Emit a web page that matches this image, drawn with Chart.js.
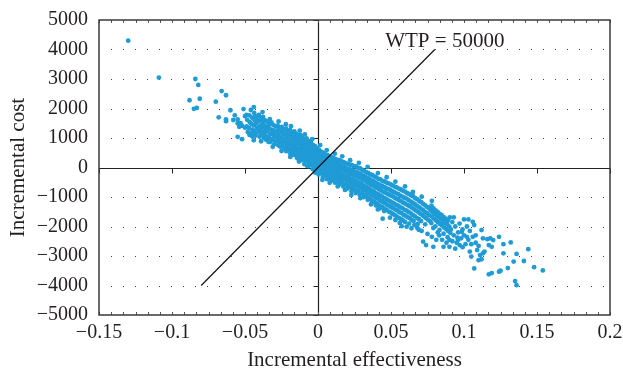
<!DOCTYPE html>
<html>
<head>
<meta charset="utf-8">
<script src="https://cdn.jsdelivr.net/npm/chart.js@4.4.1/dist/chart.umd.min.js"></script>
<style>
  body { margin: 0; background: #fff; }
  canvas { display: block; }
</style>
</head>
<body>
<canvas id="icer" width="623" height="370"></canvas>
<script>
// tick labels
const xTickLabels = ['\u22120.15', '\u22120.1', '\u22120.05', '0', '0.05', '0.1', '0.15', '0.2'];
const yTickLabels = ['\u22125000', '\u22124000', '\u22123000', '\u22122000', '\u22121000', '0', '1000', '2000', '3000', '4000', '5000'];

// willingness-to-pay threshold line
const wtpLabel = 'WTP = 50000';
const wtpLine = [[-0.08, -4000], [0.08, 4000]];

// bootstrap replicates [incremental effectiveness, incremental cost]
const outlierPts = [
  [-0.130, 4300], [-0.109, 3050], [-0.084, 3000], [-0.082, 2800], [-0.088, 2280], [-0.081, 2330],
  [-0.085, 1990], [-0.083, 2020], [-0.066, 2590], [-0.063, 2450], [-0.070, 2230], [-0.060, 1940],
  [-0.057, 1770], [-0.068, 1700], [-0.063, 1630], [-0.063, 1570], [-0.058, 1610], [-0.055, 1630],
  [-0.055, 1500], [-0.054, 1380], [-0.051, 1980], [-0.046, 1950], [-0.044, 2050], [-0.049, 1780],
  [-0.050, 1740], [-0.043, 1740], [-0.039, 1670], [-0.053, 1500], [-0.052, 1410], [-0.055, 1040],
  [-0.052, 960], [-0.050, 1350], [-0.047, 1160], [-0.045, 1050], [-0.036, 1050], [-0.034, 870],
  [-0.0142, 312], [-0.0055, 820]
];

// scattered replicates just outside the dense core
const edgePts = [
  [-0.038, 1880], [-0.033, 1640], [-0.027, 1560], [-0.022, 1470], [-0.0185, 1400], [-0.0125, 1250],
  [-0.009, 1120], [-0.004, 960], [0.0015, 760], [0.006, 590], [0.0115, 470], [0.0166, 380],
  [0.022, 250], [0.028, 160], [0.034, 20], [0.041, -190], [0.047, -330], [0.053, -480],
  [0.0596, -640], [0.065, -830], [0.071, -990], [0.078, -1130],
  [-0.044, 920], [-0.039, 890], [-0.031, 700], [-0.025, 560], [-0.019, 360], [-0.013, 200],
  [-0.0075, 60], [-0.002, -170], [0.003, -420], [0.008, -520], [0.0135, -640], [0.0185, -760],
  [0.0228, -932], [0.029, -1040], [0.0363, -1250], [0.041, -1420], [0.0443, -1736], [0.0493, -1700],
  [0.053, -1780], [0.056, -1880], [0.0607, -2007], [0.0573, -1990], [0.064, -2060], [0.069, -2110],
  [0.068, -2050], [0.071, -2150], [0.075, -2250], [0.078, -2350], [0.081, -2450], [0.083, -2300],
  [0.066, -1950], [0.085, -2450], [0.088, -2550], [0.092, -2500], [0.094, -2750], [0.096, -2450],
  [0.099, -2700], [0.102, -2350], [0.105, -2600], [0.108, -2300]
];

const upperBandPts = [
  [-0.0485, 1615], [-0.0488, 1395], [-0.0481, 1205],
  [-0.0470, 1770], [-0.0467, 1535], [-0.0473, 1340], [-0.0469, 1105],
  [-0.0452, 1690], [-0.0456, 1475], [-0.0449, 1280], [-0.0454, 1160],
  [-0.0437, 1850], [-0.0434, 1600], [-0.0440, 1425], [-0.0435, 1235], [-0.0431, 1080],
  [-0.0421, 1690], [-0.0424, 1495], [-0.0418, 1340], [-0.0422, 1150],
  [-0.0405, 1780], [-0.0408, 1570], [-0.0402, 1395], [-0.0406, 1240], [-0.0401, 1045],
  [-0.0391, 1650], [-0.0388, 1455], [-0.0394, 1300], [-0.0389, 1140],
  [-0.0376, 1715], [-0.0379, 1540], [-0.0373, 1360], [-0.0377, 1200], [-0.0372, 1015],
  [-0.0362, 1600], [-0.0365, 1430], [-0.0359, 1270], [-0.0363, 1095], [-0.0358, 945],
  [-0.0348, 1560], [-0.0345, 1370], [-0.0351, 1225], [-0.0346, 1040],
  [-0.0333, 1470], [-0.0336, 1335], [-0.0330, 1150], [-0.0334, 995], [-0.0329, 865],
  [-0.0319, 1525], [-0.0322, 1285], [-0.0316, 1130], [-0.0320, 950],
  [-0.0305, 1435], [-0.0308, 1265], [-0.0302, 1070], [-0.0306, 935], [-0.0301, 785],
  [-0.0290, 1395], [-0.0293, 1205], [-0.0287, 1055], [-0.0291, 875],
  [-0.0276, 1415], [-0.0279, 1255], [-0.0273, 1085], [-0.0277, 945], [-0.0272, 755],
  [-0.0262, 1325], [-0.0265, 1175], [-0.0259, 1005], [-0.0263, 855], [-0.0258, 705],
  [-0.0248, 1375], [-0.0251, 1195], [-0.0245, 1045], [-0.0249, 885], [-0.0244, 725],
  [-0.0233, 1285], [-0.0236, 1135], [-0.0230, 965], [-0.0234, 815], [-0.0229, 645],
  [-0.0219, 1325], [-0.0222, 1155], [-0.0216, 1005], [-0.0220, 845], [-0.0215, 695], [-0.0218, 555],
  [-0.0205, 1235], [-0.0208, 1085], [-0.0202, 925], [-0.0206, 775], [-0.0201, 605],
  [-0.0191, 1275], [-0.0194, 1105], [-0.0188, 955], [-0.0192, 795], [-0.0187, 645], [-0.0190, 475],
  [-0.0176, 1185], [-0.0179, 1035], [-0.0173, 875], [-0.0177, 725], [-0.0172, 565], [-0.0175, 425],
  [-0.0162, 1225], [-0.0165, 1055], [-0.0159, 905], [-0.0163, 745], [-0.0158, 605], [-0.0161, 445]
];

const midBandPts = [
  [-0.0148, 1135], [-0.0151, 995], [-0.0145, 825], [-0.0149, 685], [-0.0144, 515], [-0.0147, 385],
  [-0.0134, 1085], [-0.0137, 925], [-0.0131, 795], [-0.0135, 625], [-0.0130, 485], [-0.0133, 325],
  [-0.0120, 1105], [-0.0123, 965], [-0.0117, 795], [-0.0121, 655], [-0.0116, 495], [-0.0119, 355], [-0.0122, 235],
  [-0.0106, 1015], [-0.0109, 865], [-0.0103, 725], [-0.0107, 575], [-0.0102, 425], [-0.0105, 275],
  [-0.0092, 945], [-0.0095, 805], [-0.0089, 655], [-0.0093, 515], [-0.0088, 365], [-0.0091, 225], [-0.0094, 115],
  [-0.0078, 985], [-0.0081, 825], [-0.0075, 695], [-0.0079, 535], [-0.0074, 395], [-0.0077, 245],
  [-0.0063, 895], [-0.0066, 755], [-0.0060, 605], [-0.0064, 465], [-0.0059, 315], [-0.0062, 175], [-0.0065, 45],
  [-0.0049, 845], [-0.0052, 695], [-0.0046, 565], [-0.0050, 405], [-0.0045, 275], [-0.0048, 115],
  [-0.0035, 765], [-0.0038, 635], [-0.0032, 485], [-0.0036, 355], [-0.0031, 195], [-0.0034, 65], [-0.0037, -55],
  [-0.0021, 725], [-0.0024, 575], [-0.0018, 435], [-0.0022, 285], [-0.0017, 155], [-0.0020, 5],
  [-0.0007, 655], [-0.0010, 515], [-0.0004, 365], [-0.0008, 235], [-0.0003, 85], [-0.0006, -55], [-0.0009, -185],
  [0.0007, 595], [0.0004, 445], [0.0010, 315], [0.0006, 165], [0.0011, 35], [0.0008, -115], [0.0005, -235],
  [0.0021, 535], [0.0018, 405], [0.0024, 255], [0.0020, 125], [0.0025, -25], [0.0022, -155],
  [0.0035, 505], [0.0032, 355], [0.0038, 225], [0.0034, 75], [0.0039, -65], [0.0036, -215], [0.0033, -325],
  [0.0049, 445], [0.0046, 315], [0.0052, 165], [0.0048, 35], [0.0053, -115], [0.0050, -245],
  [0.0063, 425], [0.0060, 275], [0.0066, 145], [0.0062, -5], [0.0067, -135], [0.0064, -285], [0.0061, -395],
  [0.0077, 375], [0.0074, 245], [0.0080, 95], [0.0076, -35], [0.0081, -185], [0.0078, -315],
  [0.0091, 355], [0.0088, 205], [0.0094, 75], [0.0090, -75], [0.0095, -205], [0.0092, -355], [0.0089, -455],
  [0.0105, 315], [0.0102, 185], [0.0108, 35], [0.0104, -95], [0.0109, -245], [0.0106, -375],
  [0.0119, 295], [0.0116, 145], [0.0122, 15], [0.0118, -135], [0.0123, -265], [0.0120, -415], [0.0117, -515],
  [0.0133, 255], [0.0130, 125], [0.0136, -25], [0.0132, -155], [0.0137, -305], [0.0134, -435],
  [0.0147, 245], [0.0144, 85], [0.0150, -45], [0.0146, -195], [0.0151, -325], [0.0148, -475], [0.0145, -575],
  [0.0161, 205], [0.0158, 65], [0.0164, -85], [0.0160, -215], [0.0165, -375], [0.0162, -505],
  [0.0175, 185], [0.0172, 25], [0.0178, -105], [0.0174, -265], [0.0179, -395], [0.0176, -555], [0.0173, -645],
  [0.0189, 145], [0.0186, 5], [0.0192, -145], [0.0188, -285], [0.0193, -435], [0.0190, -575],
  [0.0203, 125], [0.0200, -35], [0.0206, -175], [0.0202, -325], [0.0207, -465], [0.0204, -625], [0.0201, -715],
  [0.0217, 95], [0.0214, -55], [0.0220, -215], [0.0216, -355], [0.0221, -515], [0.0218, -655],
  [0.0231, 85], [0.0228, -85], [0.0234, -235], [0.0230, -395], [0.0235, -535], [0.0232, -695], [0.0229, -805],
  [0.0245, 45], [0.0242, -105], [0.0248, -275], [0.0244, -415], [0.0249, -585], [0.0246, -725],
  [0.0259, 35], [0.0256, -145], [0.0262, -295], [0.0258, -465], [0.0263, -605], [0.0260, -775], [0.0257, -865],
  [0.0273, -5], [0.0270, -165], [0.0276, -335], [0.0272, -485], [0.0277, -655], [0.0274, -805],
  [0.0287, -25], [0.0284, -205], [0.0290, -355], [0.0286, -525], [0.0291, -685], [0.0288, -855], [0.0285, -925],
  [0.0301, -75], [0.0298, -235], [0.0304, -405], [0.0300, -555], [0.0305, -725], [0.0302, -875]
];

const lowerBandPts = [
  [0.0315, -105], [0.0312, -285], [0.0318, -435], [0.0314, -615], [0.0319, -765], [0.0316, -935], [0.0313, -1005],
  [0.0329, -155], [0.0326, -315], [0.0332, -485], [0.0328, -645], [0.0333, -815], [0.0330, -965],
  [0.0343, -185], [0.0340, -365], [0.0346, -525], [0.0342, -695], [0.0347, -855], [0.0344, -1025], [0.0341, -1095],
  [0.0357, -235], [0.0354, -395], [0.0360, -575], [0.0356, -735], [0.0361, -905], [0.0358, -1065],
  [0.0371, -255], [0.0368, -445], [0.0374, -605], [0.0370, -785], [0.0375, -945], [0.0372, -1125], [0.0369, -1195],
  [0.0385, -305], [0.0382, -475], [0.0388, -655], [0.0384, -815], [0.0389, -995], [0.0386, -1155],
  [0.0399, -335], [0.0396, -525], [0.0402, -685], [0.0398, -875], [0.0403, -1035], [0.0400, -1215], [0.0397, -1285],
  [0.0413, -385], [0.0410, -555], [0.0416, -735], [0.0412, -905], [0.0417, -1085], [0.0414, -1255],
  [0.0427, -405], [0.0424, -595], [0.0430, -765], [0.0426, -955], [0.0431, -1125], [0.0428, -1315], [0.0425, -1385],
  [0.0441, -455], [0.0438, -625], [0.0444, -815], [0.0440, -985], [0.0445, -1175], [0.0442, -1345],
  [0.0455, -475], [0.0452, -665], [0.0458, -845], [0.0454, -1035], [0.0459, -1205], [0.0456, -1405], [0.0453, -1475],
  [0.0469, -515], [0.0466, -695], [0.0472, -885], [0.0468, -1065], [0.0473, -1265], [0.0470, -1435],
  [0.0483, -535], [0.0480, -735], [0.0486, -915], [0.0482, -1115], [0.0487, -1295], [0.0484, -1495],
  [0.0497, -575], [0.0494, -755], [0.0500, -955], [0.0496, -1145], [0.0501, -1345], [0.0498, -1525],
  [0.0511, -605], [0.0508, -805], [0.0514, -985], [0.0510, -1195], [0.0515, -1375], [0.0512, -1575],
  [0.0525, -645], [0.0522, -835], [0.0528, -1035], [0.0524, -1225], [0.0529, -1425], [0.0526, -1615],
  [0.0539, -675], [0.0536, -875], [0.0542, -1065], [0.0538, -1275], [0.0543, -1455], [0.0540, -1665],
  [0.0553, -715], [0.0550, -905], [0.0556, -1115], [0.0552, -1305], [0.0557, -1515], [0.0554, -1705],
  [0.0567, -745], [0.0564, -955], [0.0570, -1145], [0.0566, -1355], [0.0571, -1545], [0.0568, -1755],
  [0.0581, -785], [0.0578, -985], [0.0584, -1195], [0.0580, -1385], [0.0585, -1605], [0.0582, -1795],
  [0.0595, -815], [0.0592, -1025], [0.0598, -1225], [0.0594, -1435], [0.0599, -1635], [0.0596, -1845],
  [0.0609, -865], [0.0606, -1055], [0.0612, -1275], [0.0608, -1465], [0.0613, -1685],
  [0.0623, -895], [0.0620, -1105], [0.0626, -1305], [0.0622, -1515], [0.0627, -1715], [0.0624, -1905],
  [0.0637, -945], [0.0634, -1145], [0.0640, -1355], [0.0636, -1555], [0.0641, -1775],
  [0.0651, -975], [0.0648, -1195], [0.0654, -1395], [0.0650, -1615], [0.0655, -1815],
  [0.0665, -1035], [0.0662, -1235], [0.0668, -1455], [0.0664, -1655],
  [0.0679, -1075], [0.0676, -1295], [0.0682, -1495], [0.0678, -1715], [0.0683, -1915],
  [0.0693, -1135], [0.0690, -1335], [0.0696, -1555], [0.0692, -1755],
  [0.0707, -1175], [0.0704, -1395], [0.0710, -1595], [0.0706, -1815],
  [0.0721, -1235], [0.0718, -1435], [0.0724, -1655], [0.072, -2510],
  [0.0735, -1285], [0.0732, -1505], [0.0738, -1705], [0.0734, -1925], [0.074, -2630],
  [0.0749, -1345], [0.0746, -1545], [0.0752, -1765],
  [0.0763, -1395], [0.0760, -1615], [0.0766, -1815],
  [0.0777, -1295], [0.0774, -1465], [0.0780, -1665], [0.0776, -1885],
  [0.0791, -1385], [0.0788, -1525], [0.0794, -1735], [0.079, -2050], [0.079, -2690],
  [0.0805, -1455], [0.0802, -1575], [0.0808, -1795], [0.0804, -1995],
  [0.0819, -1505], [0.0816, -1645], [0.0822, -1855], [0.082, -2200],
  [0.0833, -1575], [0.0830, -1695], [0.0836, -1915], [0.0832, -2115],
  [0.0847, -1615], [0.0844, -1765], [0.0850, -1965], [0.086, -2690],
  [0.0861, -1685], [0.0858, -1815], [0.0864, -2035], [0.0860, -2245],
  [0.0875, -1735], [0.0872, -1885], [0.0878, -2085],
  [0.0889, -1805], [0.0886, -1935], [0.0892, -2155], [0.0888, -2365],
  [0.0903, -1695], [0.0900, -2005], [0.0906, -2215], [0.090, -2450], [0.090, -2690]
];

const tailPts = [
  [0.091, -2100], [0.092, -1850], [0.093, -1690], [0.093, -2300], [0.094, -2000], [0.095, -2550],
  [0.096, -2200], [0.097, -1900], [0.097, -2630], [0.098, -2400], [0.099, -2100], [0.100, -1760],
  [0.100, -2300], [0.101, -2600], [0.102, -2000], [0.103, -1760], [0.103, -2450], [0.104, -2850],
  [0.104, -2150], [0.105, -3020], [0.106, -1840], [0.106, -2350], [0.107, -1950], [0.107, -3420],
  [0.108, -2550], [0.109, -2800], [0.110, -2660], [0.110, -3140], [0.0985, -2180], [0.0955, -2380],
  [0.111, -2970], [0.112, -2120], [0.112, -3110], [0.113, -2400], [0.113, -2910], [0.114, -2850],
  [0.116, -2430], [0.117, -2630], [0.117, -3620], [0.118, -2400], [0.119, -2690], [0.119, -3580],
  [0.120, -2460], [0.124, -2350], [0.124, -3530], [0.125, -3500], [0.127, -2600], [0.127, -2910],
  [0.130, -3410], [0.132, -2540], [0.134, -3190], [0.135, -3850], [0.136, -2930], [0.136, -3990],
  [0.141, -3170], [0.144, -2770], [0.148, -3380], [0.154, -3490]
];

const allPts = [...outlierPts, ...edgePts, ...upperBandPts, ...midBandPts, ...lowerBandPts, ...tailPts];
const serif = "'Liberation Serif', 'Times New Roman', serif";
const ink = '#231f20';

// frame, zero axes, dotted grid and tick marks
const framePlugin = {
  id: 'frame',
  beforeDatasetsDraw(chart) {
    const { ctx, chartArea: a, scales: { x, y } } = chart;
    const x0 = Math.round(x.getPixelForValue(0)) + 0.5;
    const y0 = Math.round(y.getPixelForValue(0)) + 0.5;
    ctx.save();

    ctx.strokeStyle = '#444';
    ctx.lineWidth = 1;
    ctx.setLineDash([1, 11]);
    y.ticks.forEach(t => {
      if (t.value === 0 || Math.abs(t.value) === 5000) return;
      const py = Math.round(y.getPixelForValue(t.value)) + 0.5;
      ctx.beginPath();
      ctx.moveTo(a.left + 12, py);
      ctx.lineTo(a.right, py);
      ctx.stroke();
    });
    ctx.setLineDash([]);

    // zero axes
    ctx.strokeStyle = '#222';
    ctx.lineWidth = 1.2;
    ctx.beginPath();
    ctx.moveTo(a.left, y0); ctx.lineTo(a.right, y0);
    ctx.moveTo(x0, a.top); ctx.lineTo(x0, a.bottom);
    ctx.stroke();

    // major ticks on zero axes
    ctx.lineWidth = 1;
    ctx.beginPath();
    x.ticks.forEach(t => {
      const px = Math.round(x.getPixelForValue(t.value)) + 0.5;
      ctx.moveTo(px, y0); ctx.lineTo(px, y0 + 5);
    });
    y.ticks.forEach(t => {
      const py = Math.round(y.getPixelForValue(t.value)) + 0.5;
      ctx.moveTo(x0 - 5, py); ctx.lineTo(x0, py);
    });
    ctx.stroke();

    // minor ticks on top and bottom borders
    ctx.strokeStyle = '#555';
    ctx.beginPath();
    for (let i = 0; i <= 42; i++) {
      const px = Math.round(x.getPixelForValue(-0.15 + i * 0.05 / 6)) + 0.5;
      ctx.moveTo(px, a.bottom); ctx.lineTo(px, a.bottom - 3);
      ctx.moveTo(px, a.top); ctx.lineTo(px, a.top + 3);
    }
    ctx.stroke();

    // frame
    ctx.strokeStyle = '#3a3a3a';
    ctx.lineWidth = 1.5;
    ctx.strokeRect(a.left, a.top, a.right - a.left, a.bottom - a.top);
    ctx.restore();
  },
  afterDatasetsDraw(chart) {
    const { ctx, scales: { x, y } } = chart;
    const end = wtpLine[1];
    ctx.save();
    ctx.font = '21px ' + serif;
    ctx.fillStyle = ink;
    ctx.textAlign = 'center';
    ctx.textBaseline = 'alphabetic';
    ctx.fillText(wtpLabel, x.getPixelForValue(end[0]) + 10, y.getPixelForValue(end[1]) - 3);
    ctx.restore();
  }
};

new Chart(document.getElementById('icer'), {
  type: 'scatter',
  data: {
    datasets: [
      {
        type: 'line',
        label: wtpLabel,
        data: wtpLine.map(p => ({ x: p[0], y: p[1] })),
        borderColor: '#111',
        borderWidth: 1.2,
        pointRadius: 0,
        order: 0
      },
      {
        label: 'Bootstrap replicates',
        data: allPts.map(p => ({ x: p[0], y: p[1] })),
        backgroundColor: '#1f9bd6',
        borderWidth: 0,
        pointRadius: 2.4,
        order: 1
      }
    ]
  },
  options: {
    responsive: false,
    animation: false,
    layout: { padding: { top: 20, right: 13, left: 0, bottom: 0 } },
    plugins: { legend: { display: false }, tooltip: { enabled: false } },
    scales: {
      x: {
        type: 'linear',
        min: -0.15,
        max: 0.2,
        grid: { display: false, drawTicks: false },
        border: { display: false },
        ticks: {
          stepSize: 0.05,
          padding: 6,
          color: ink,
          font: { family: serif, size: 20 },
          callback: (v, i) => xTickLabels[i]
        },
        title: {
          display: true,
          text: 'Incremental effectiveness',
          color: ink,
          font: { family: serif, size: 21 },
          padding: { top: 0, bottom: -3 }
        },
        afterFit: s => { s.height = 55; s.paddingLeft = 0; s.paddingRight = 0; }
      },
      y: {
        type: 'linear',
        min: -5000,
        max: 5000,
        grid: { display: false, drawTicks: false },
        border: { display: false },
        ticks: {
          stepSize: 1000,
          padding: 11,
          color: ink,
          font: { family: serif, size: 20 },
          callback: (v, i) => yTickLabels[i]
        },
        title: {
          display: true,
          text: 'Incremental cost',
          color: ink,
          font: { family: serif, size: 21 },
          padding: { top: 6, bottom: 0 }
        },
        afterFit: s => { s.width = 99; s.paddingTop = 0; s.paddingBottom = 0; }
      }
    }
  },
  plugins: [framePlugin]
});
</script>
</body>
</html>
